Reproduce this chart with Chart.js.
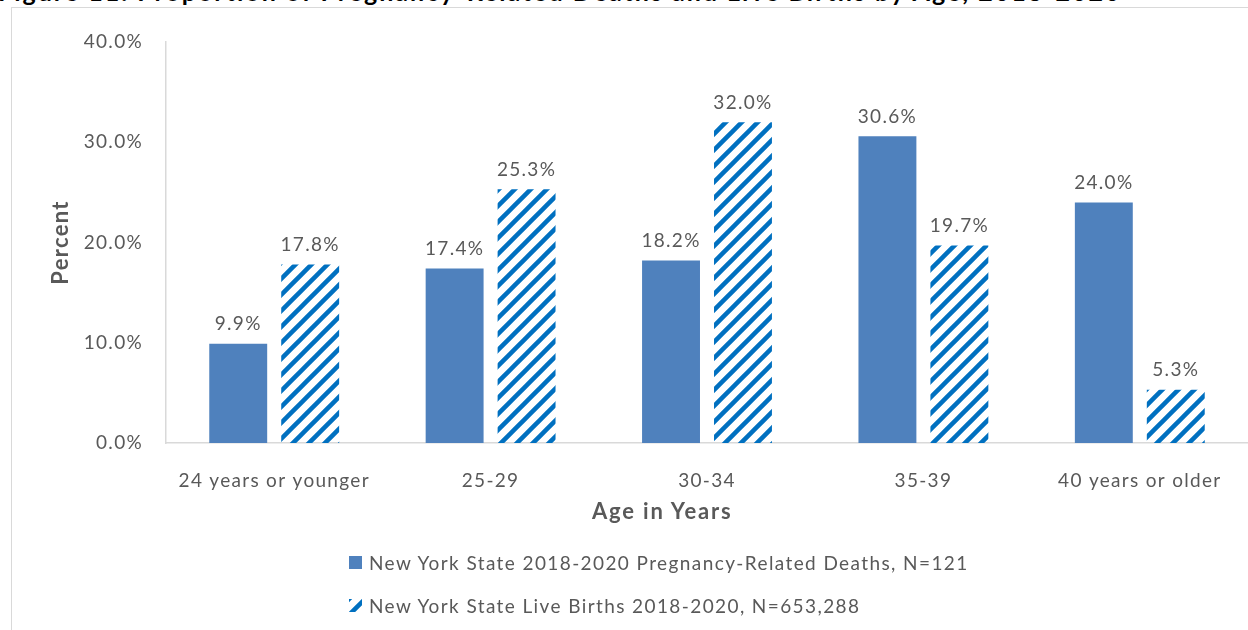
<!DOCTYPE html>
<html>
<head>
<meta charset="utf-8">
<script src="https://cdn.jsdelivr.net/npm/chart.js@4"></script>
<style>
  html, body { margin: 0; padding: 0; background: #fff; }
  #wrap { position: relative; width: 1248px; height: 630px; overflow: hidden; background: #fff; font-family: Lato, sans-serif; }
  #frame { position: absolute; left: 11px; top: 7px; width: 1300px; height: 700px; border-left: 1px solid #d9d9d9; border-top: 1px solid #d9d9d9; }
  #title { position: absolute; left: -2px; top: -21px; font-size: 25px; line-height: 25px; font-weight: bold; color: #000; white-space: nowrap; letter-spacing: 2px; }
  #xtitle { position: absolute; left: 592px; top: 497px; font-size: 22px; font-weight: bold; color: #595959; white-space: nowrap; letter-spacing: 1.8px; }
  #legend { position: absolute; left: 349px; top: 541px; color: #595959; font-size: 19px; letter-spacing: 1.4px; }
  .item { display: flex; align-items: center; height: 43px; }
  .item canvas { width: 13px; height: 13px; margin-right: 7px; }
  canvas#chart { position: absolute; left: 0; top: 0; }
</style>
</head>
<body>
<div id="wrap">
  <div id="frame"></div>
  <div id="title">Figure 11. Proportion of Pregnancy-Related Deaths and Live Births by Age, 2018-2020</div>
  <canvas id="chart" width="1248" height="630"></canvas>
  <div id="xtitle">Age in Years</div>
  <div id="legend"></div>
</div>
<script>
// Chart data
const ageGroups = ['24 years or younger', '25-29', '30-34', '35-39', '40 years or older'];
const deathsPct = [9.9, 17.4, 18.2, 30.6, 24.0];
const birthsPct = [17.8, 25.3, 32.0, 19.7, 5.3];
const yTicks = [0, 10, 20, 30, 40];
const seriesNames = ['New York State 2018-2020 Pregnancy-Related Deaths, N=121',
                     'New York State Live Births 2018-2020, N=653,288'];

// diagonal stripe fill for the live births bars
function makeStripes() {
    const c = document.createElement('canvas');
    c.width = 16; c.height = 16;
    const g = c.getContext('2d');
    g.strokeStyle = '#0070c0';
    g.lineWidth = 4.5;
    g.beginPath();
    g.moveTo(-4, 20); g.lineTo(20, -4);
    g.moveTo(-4, 4); g.lineTo(4, -4);
    g.moveTo(12, 20); g.lineTo(20, 12);
    g.stroke();
    return c;
}
const stripeTile = makeStripes();
const stripes = document.getElementById('chart').getContext('2d').createPattern(stripeTile, 'repeat');

// the excel text is set quite loose, so widen canvas text a bit
const spacing = {
    id: 'spacing',
    beforeDraw(chart) { chart.ctx.letterSpacing = '1.3px'; }
};

// value labels above each bar
const barLabels = {
    id: 'barLabels',
    afterDatasetsDraw(chart) {
        const ctx = chart.ctx;
        ctx.save();
        ctx.font = '19px Lato';
        ctx.fillStyle = '#595959';
        ctx.textAlign = 'center';
        ctx.textBaseline = 'bottom';
        chart.data.datasets.forEach((ds, i) => {
            chart.getDatasetMeta(i).data.forEach((bar, j) => {
                ctx.fillText(ds.data[j].toFixed(1) + '%', bar.x, bar.y - 10);
            });
        });
        ctx.restore();
    }
};

const chart = new Chart(document.getElementById('chart'), {
    type: 'bar',
    data: {
        labels: ageGroups,
        datasets: [{
            label: seriesNames[0],
            data: deathsPct,
            backgroundColor: '#4f81bd',
            categoryPercentage: 0.665,
            barPercentage: 0.805
        }, {
            label: seriesNames[1],
            data: birthsPct,
            backgroundColor: stripes,
            categoryPercentage: 0.665,
            barPercentage: 0.805
        }]
    },
    options: {
        responsive: false,
        animation: false,
        events: [],
        layout: { padding: { top: 42, left: 0, right: 0, bottom: 0 } },
        plugins: { legend: { display: false }, tooltip: { enabled: false } },
        scales: {
            x: {
                grid: { display: false },
                border: { display: true, color: '#d9d9d9', width: 1.5 },
                ticks: { color: '#595959', font: { family: 'Lato', size: 19 }, padding: 18, maxRotation: 0, autoSkip: false },
                afterFit(scale) { scale.height = 187; }
            },
            y: {
                min: 0,
                max: 40,
                grid: { display: false },
                border: { display: true, color: '#d9d9d9', width: 1.5 },
                afterBuildTicks(scale) { scale.ticks = yTicks.map(v => ({ value: v })); },
                ticks: {
                    color: '#595959',
                    font: { family: 'Lato', size: 19 },
                    padding: 15,
                    callback: v => v.toFixed(1) + '%'
                },
                title: {
                    display: true,
                    text: 'Percent',
                    color: '#595959',
                    font: { family: 'Lato', size: 22, weight: 'bold' },
                    padding: { top: 48, bottom: 0 }
                },
                afterFit(scale) { scale.width = 166; }
            }
        }
    },
    plugins: [spacing, barLabels]
});

// legend, one series per line
const legend = document.getElementById('legend');
seriesNames.forEach((name, i) => {
    const row = document.createElement('div');
    row.className = 'item';
    const sw = document.createElement('canvas');
    sw.width = 13; sw.height = 13;
    const g = sw.getContext('2d');
    g.fillStyle = i === 0 ? '#4f81bd' : g.createPattern(stripeTile, 'repeat');
    g.fillRect(0, 0, 13, 13);
    row.appendChild(sw);
    row.appendChild(document.createTextNode(name));
    legend.appendChild(row);
});
</script>
</body>
</html>
